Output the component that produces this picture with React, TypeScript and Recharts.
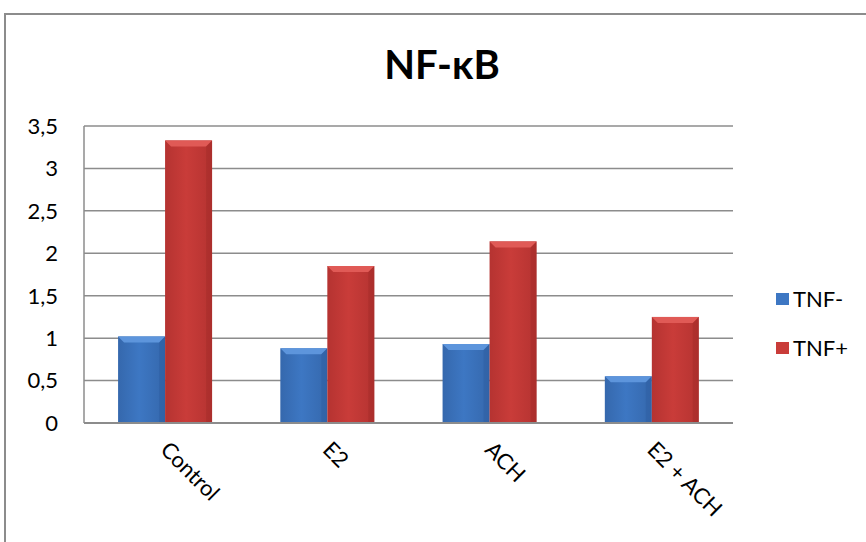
import React from 'react';
import { BarChart, Bar, XAxis, YAxis, CartesianGrid } from 'recharts';

const categories = ['Control', 'E2', 'ACH', 'E2 + ACH'];
const tnfMinus = [1.02, 0.88, 0.93, 0.55];
const tnfPlus = [3.33, 1.85, 2.14, 1.25];
const yTicks = [0, 0.5, 1, 1.5, 2, 2.5, 3, 3.5];

const data = categories.map((name, i) => ({ name, minus: tnfMinus[i], plus: tnfPlus[i] }));

const PALETTE: any = {
  minus: { base: '#3d77c3', light: '#5d95dc', dark: '#2a5a9c', edge: '#3568ad' },
  plus: { base: '#c93c39', light: '#e05a56', dark: '#9c2826', edge: '#b53331' },
};

const FONT = "Lato, 'Open Sans', sans-serif";

const bevelShape = (key: string) => (props: any) => {
  const { x, y, width, height } = props;
  const c = PALETTE[key];
  const b = Math.min(6, height / 2);
  const gid = `g-${key}`;
  return (
    <g>
      <defs>
        <linearGradient id={gid} x1="0" y1="0" x2="1" y2="0">
          <stop offset="0%" stopColor={c.edge} />
          <stop offset="45%" stopColor={c.base} />
          <stop offset="100%" stopColor={c.edge} />
        </linearGradient>
      </defs>
      <rect x={x} y={y} width={width} height={height} fill={`url(#${gid})`} />
      <polygon points={`${x},${y} ${x + width},${y} ${x + width - b},${y + b} ${x + b},${y + b}`} fill={c.light} />
      <polygon points={`${x + width},${y} ${x + width - b},${y + b} ${x + width - b},${y + height} ${x + width},${y + height}`} fill={c.dark} opacity={0.35} />
    </g>
  );
};

const XTick = (props: any) => {
  const { x, y, payload } = props;
  const tx = x - 6;
  const ty = y + 20;
  return (
    <text x={tx} y={ty} transform={`rotate(45, ${tx}, ${ty})`} textAnchor="start" fontSize={22} fill="#000" fontFamily={FONT}>
      {payload.value}
    </text>
  );
};

const legendItems = [
  { label: 'TNF-', key: 'minus' },
  { label: 'TNF+', key: 'plus' },
];

export default function App() {
  return (
    <div style={{ position: 'absolute', left: 0, top: 0, width: 866, height: 542, background: '#fff', overflow: 'hidden' }}>
      <div style={{ position: 'absolute', left: 4, top: 13, width: 900, height: 600, borderTop: '2px solid #8c8c8c', borderLeft: '2px solid #8c8c8c' }} />
      <div style={{ position: 'absolute', left: 0, top: 40, width: 884, textAlign: 'center', fontFamily: FONT, fontWeight: 'bold', fontSize: 40, color: '#000' }}>
        NF-κB
      </div>
      <BarChart
        width={866}
        height={542}
        data={data}
        margin={{ top: 126, right: 133, bottom: 0, left: 0 }}
        barCategoryGap="21%"
        barGap={0}
        style={{ position: 'absolute', left: 0, top: 0 }}
      >
        <CartesianGrid vertical={false} stroke="#8c8c8c" strokeWidth={1.5} />
        <XAxis dataKey="name" height={119} tick={<XTick />} tickLine={false} axisLine={{ stroke: '#8c8c8c', strokeWidth: 2 }} interval={0} />
        <YAxis
          width={84}
          domain={[0, 3.5]}
          ticks={yTicks}
          tickFormatter={(v: number) => String(v).replace('.', ',')}
          tick={{ fontSize: 22, fill: '#000', fontFamily: FONT }}
          tickLine={false}
          tickSize={0}
          tickMargin={26}
          axisLine={{ stroke: '#8c8c8c', strokeWidth: 1.5 }}
        />
        <Bar dataKey="minus" name="TNF-" fill={PALETTE.minus.base} shape={bevelShape('minus')} isAnimationActive={false} />
        <Bar dataKey="plus" name="TNF+" fill={PALETTE.plus.base} shape={bevelShape('plus')} isAnimationActive={false} />
      </BarChart>
      <div style={{ position: 'absolute', left: 776, top: 274, fontFamily: FONT, fontSize: 22, color: '#000' }}>
        {legendItems.map((it) => (
          <div key={it.key} style={{ display: 'flex', alignItems: 'center', height: 49 }}>
            <span style={{ display: 'inline-block', width: 13, height: 12, background: PALETTE[it.key].base, marginRight: 4 }} />
            <span>{it.label}</span>
          </div>
        ))}
      </div>
    </div>
  );
}
